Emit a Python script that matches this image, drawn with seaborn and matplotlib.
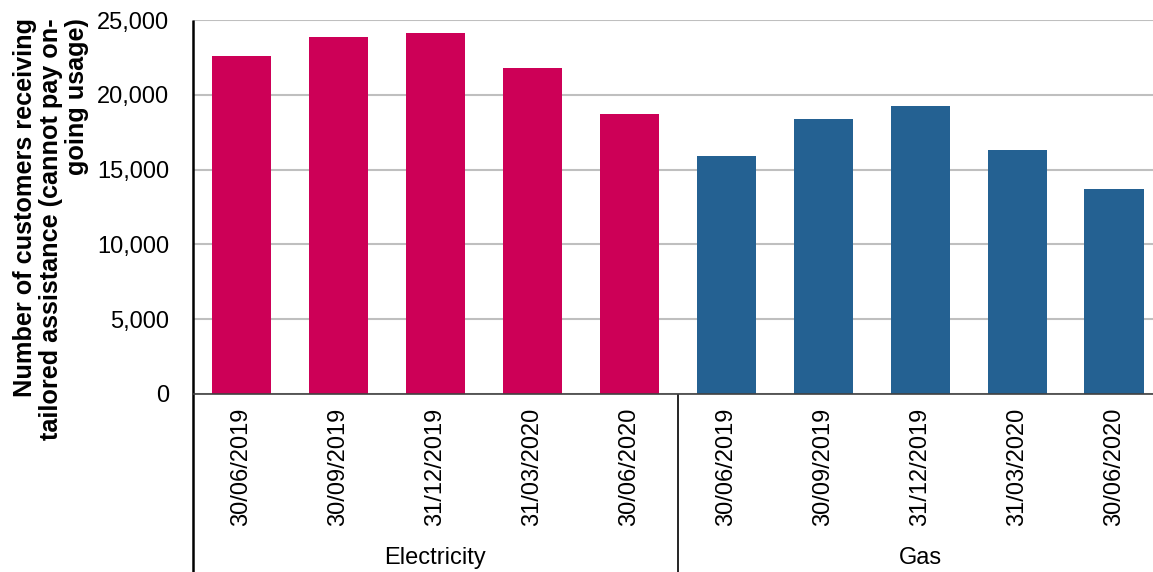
import matplotlib
matplotlib.use("Agg")
import matplotlib.pyplot as plt
import matplotlib.transforms as mtransforms
from matplotlib.ticker import FuncFormatter, MultipleLocator
import seaborn as sns
import pandas as pd

# Quarterly customers receiving tailored assistance (cannot pay on-going usage)
fuels = ["Electricity", "Gas"]
quarters = ["30/06/2019", "30/09/2019", "31/12/2019", "31/03/2020", "30/06/2020"]
electricity = [22600, 23850, 24130, 21800, 18720]
gas = [15930, 18360, 19270, 16340, 13700]
fuel_colors = {"Electricity": "#CD0057", "Gas": "#246192"}

rows = []
for fuel, values in zip(fuels, [electricity, gas]):
    for q, v in zip(quarters, values):
        rows.append({"fuel": fuel, "quarter": q, "slot": f"{fuel} {q}", "customers": v})
df = pd.DataFrame(rows)
slots = list(df["slot"])

sns.set_theme(style="white")
plt.rcParams["font.family"] = ["Liberation Sans", "DejaVu Sans"]

W, H = 1153, 572
fig = plt.figure(figsize=(W / 100, H / 100), dpi=100)
left, right, top, bottom = 193, 1162.5, 20, 394
ax = fig.add_axes([left / W, 1 - bottom / H, (right - left) / W, (bottom - top) / H])

sns.barplot(data=df, x="slot", y="customers", hue="fuel", order=slots,
            palette=fuel_colors, dodge=False, width=0.61, saturation=1,
            legend=False, ax=ax, linewidth=0)

ax.set_xlim(-0.5, len(slots) - 0.5)
ax.set_ylim(0, 25000)
ax.yaxis.set_major_locator(MultipleLocator(5000))
ax.yaxis.set_major_formatter(FuncFormatter(lambda v, p: f"{int(v):,}"))
ax.grid(axis="y", color="#BFBFBF", linewidth=1.5)
ax.set_axisbelow(True)

ax.set_xticks(range(len(slots)))
ax.set_xticklabels(list(df["quarter"]), rotation=90, fontsize=17, color="black")
ax.tick_params(axis="x", length=0, pad=10)
ax.tick_params(axis="y", length=0, pad=17, labelsize=17, labelcolor="black")
ax.set_xlabel("")
ax.set_ylabel("")

for s in ["top", "right"]:
    ax.spines[s].set_visible(False)
ax.spines["left"].set_visible(False)
ax.spines["bottom"].set_color("#404040")
ax.spines["bottom"].set_linewidth(1.2)

# Vertical axis line, running down through the category area
trans = mtransforms.blended_transform_factory(ax.transData, ax.transAxes)
ax.plot([-0.5, -0.5], [1, -0.6], transform=trans, color="black",
        linewidth=1.8, clip_on=False, solid_capstyle="butt")
# Divider between fuel groups
n = len(quarters)
ax.plot([n - 0.5, n - 0.5], [0, -0.6], transform=trans, color="black",
        linewidth=1.2, clip_on=False, solid_capstyle="butt")

# Group labels beneath the dates
label_y = -(558 - bottom) / (bottom - top)
for i, fuel in enumerate(fuels):
    ax.text(i * n + (n - 1) / 2, label_y, fuel, transform=trans,
            ha="center", va="center", fontsize=17, color="black")

fig.text(51 / W, 1 - 18 / H,
         "Number of customers receiving\ntailored assistance (cannot pay on-\ngoing usage)",
         rotation=90, ha="center", va="top", multialignment="right",
         fontsize=18.2, fontweight="bold", color="black", linespacing=1.12)

fig.savefig("out.png", dpi=100)
